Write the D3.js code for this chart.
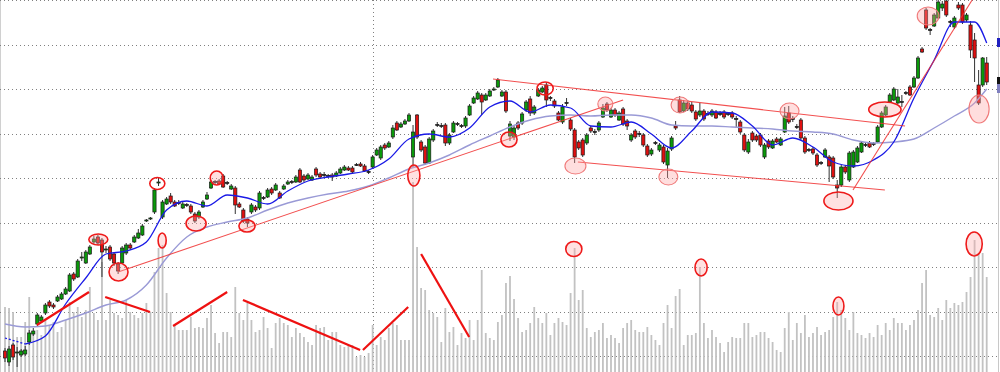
<!DOCTYPE html>
<html>
<head>
<meta charset="utf-8">
<script src="https://cdn.jsdelivr.net/npm/d3@7"></script>
<style>
  body { margin: 0; background: #fff; }
  svg { display: block; }
</style>
</head>
<body>
<script>
// daily bars, index 0..243
const opens = [
  49,38,55,47,45,46,58,66,76,79, 87,98,95,99,101,106,109,126,123,142,
  137,146,158,163,160,150,153,146,136,137, 147,155,158,162,165,179,181,188,217,183,
  196,204,198,197,192,195,194,186,183,193, 201,212,218,219,224,217,211,212,196,190,
  181,188,193,192,202,203,211,210,207,211, 216,218,218,230,224,221,220,231,226,225,
  224,225,224,227,230,232,232,235,236,234, 228,233,245,242,255,253,263,277,273,276,
  279,243,285,258,253,237,260,275,274,275, 257,268,276,274,274,285,297,301,305,300,
  304,310,313,304,308,264,263,277,277,290, 301,287,304,308,315,302,299,287,278,297,
  280,270,258,260,257,272,268,270,283,296, 283,290,280,291,279,260,269,266,265,254,
  246,257,250,253,235,251,274,300,289,297, 295,288,285,289,286,285,288,286,288,286,
  287,281,278,265,248,267,264,265,243,259, 252,261,255,268,287,281,273,280,262,250,
  251,245,237,243,243,242,215,215,233,220, 233,238,248,255,257,256,258,273,285,298,
  300,297,298,307,313,313,322,351,390,370, 374,382,392,399,378,373,395,395,380,375,
  360,315,315,337
];
const closes = [
  42,51,43,48,49,50,67,69,85,83, 95,94,93,103,106,111,125,121,139,143,
  148,153,161,157,148,151,141,137,129,152, 155,152,163,167,174,180,182,210,218,198,
  201,198,194,197.5,196,195.5,188,179,188,198, 205,218,218.5,216,213,217.5,214,195,193,179,
  177,195,190,207,202.5,210,207,215,202,214, 218,218.5,223,218,220,225,223,225,223,225.5,
  224.5,223,227,231,233,230,228,235.5,234,229, 228.5,243,250,253,252,257,272,270,276,279,
  285,268,263,250,237,261,269,275.5,274.5,257, 265,277,276.5,274.5,282,294,302,307,298,305,
  309,311,320,308,289,276,272,272,286,298, 287,293,310,312,300,302.5,294,280,293,297.5,
  271,243,252,245,265,269,268.5,277,292,290, 290,285,287,276,274,265,263,266.5,255,245,
  250,257.5,255,238,249,262,272,288,297,291, 289,281,289,281,286.5,289,282,286.5,283,286.5,
  283,281.5,268,250,258,260,260,255,255,253, 259,258,261,284,278,281.5,273.5,262,248,250.5,
  247,235,237.5,250,234,223,212,233,228,247, 248,252,257,255.5,253,256.5,273,287,293,305,
  311,303,298.5,307.5,305,322,342,348,372,370.5, 385,398,396,385,378.5,382,392,378,385,350,
  342,297,342,318
];
const highs = [
  52,54,57,53,51,54,70,72,87,85, 97,100,97,105,108,113,127,128,141,148,
  150,155,164,165,162,154,155,148,138,154, 157,157,165,171,176,181,183,212,222,200,
  203,207,200,200,198,197,196,188,190,200, 208,220,220,221,226,219,216,214,198,192,
  183,197,195,209,204,212,213,217,209,216, 220,220,225,232,226,227,225,233,228,228,
  226,227,229,233,235,234,234,237,238,236, 230,245,252,255,257,259,275,279,278,281,
  287,275,286,260,255,263,271,278,277,277, 267,279,278,276,284,296,304,309,307,307,
  311,313,322,310,310,279,275,279,288,300, 304,295,312,314,318,304,301,289,296,302,
  282,272,260,262,267,274,271,279,296,298, 292,292,289,293,281,267,271,269,267,256,
  252,259,257,255,252,264,279,304,300,300, 298,290,297,291,289,291,290,289,290,288,
  289,284,280,267,261,269,266,267,257,261, 261,263,263,293,294,284,276,282,264,252,
  253,247,239,252,245,244,220,235,235,249, 250,254,259,257,259,258,275,289,295,307,
  313,311,305,309,315,324,344,353,392,372, 387,400,399,400,380,384,398,397,387,379,
  367,330,343,343
];
const lows = [
  38,34,40,33,43,44,55,64,74,77, 85,92,91,98,100,105,108,119,122,139,
  136,145,156,155,123,147,139,134,126,136, 145,150,157,161,164,178,180,186,214,181,
  195,196,193,195,191,193,186,177,181,192, 200,211,216,215,212,215,210,186,192,177,
  173,186,188,190,200,202,205,209,201,210, 215,216,217,217,218,220,219,223,221,223,
  222,219,223,226,229,229,227,234,233,228, 226,231,244,240,250,252,261,269,272,275,
  278,233,261,248,235,236,258,273,272,254, 255,267,274,272,272,284,296,300,285,299,
  303,309,312,303,287,259,260,270,275,288, 284,285,303,307,293,299,292,279,276,294,
  269,237,250,243,255,267,265,268,282,288, 282,283,279,274,270,258,261,263,253,243,
  244,255,248,236,222,249,270,287,288,289, 287,279,283,279,284,283,281,284,281,284,
  281,272,266,248,246,258,258,253,241,251, 251,257,254,267,276,278,271,260,246,248,
  245,233,235,242,218,221,202,213,226,218, 232,237,247,253,252,254,257,272,284,297,
  299,296,293,305,304,312,321,347,370,365, 373,381,389,383,373,371,390,376,378,342,
  318,295,313,315
];
const volumes = [
  65,64,60,35,35,50,75,39,42,37, 52,47,50,40,45,52,70,60,65,55,
  62,85,59,52,110,52,72,59,57,54, 72,60,57,54,59,69,60,100,124,127,
  79,60,47,42,42,42,55,44,45,44, 54,67,39,29,40,40,35,85,59,52,
  69,52,40,42,55,44,24,49,54,49, 47,35,44,39,35,30,27,47,44,45,
  32,40,40,27,25,27,27,15,17,15, 19,47,27,35,32,44,49,47,32,32,
  32,190,125,84,82,62,59,55,30,64, 40,45,27,39,34,52,32,52,102,39,
  34,32,50,57,89,96,73,54,40,42, 49,65,54,49,59,37,49,54,50,47,
  79,124,72,82,44,35,40,42,49,34, 37,34,29,44,49,52,42,40,40,45,
  37,32,27,49,67,44,76,83,27,37, 37,39,105,49,34,42,35,29,20,30,
  35,34,34,49,49,35,37,40,40,34, 30,22,20,44,60,32,49,39,57,35,
  39,45,37,40,42,55,70,62,54,42, 60,39,37,34,39,35,47,37,49,42,
  54,49,49,42,47,52,62,89,102,57, 55,64,52,72,64,69,67,70,80,95,
  132,119,119,95
];

const maIndex = [0,5,10,15,20,25,30,35,40,45,50,55,60,65,70,75,80,85,90,95,
  100,105,110,115,120,125,130,135,140,145,150,155,160,165,170,175,180,185,190,195,
  200,205,210,215,220,225,230,235,240,243];
const maFast = [62,56,64,96,122,146,149,158,190,199,194,205,202,196,209,219,223,226,230,241,
  261,266,263,272,293,299,288,295,292,274,273,278,266,252,269,288,287,274,255,262,
  253,238,234,240,258,302,340,378,378,357];
const maSlow = [76,73,74,80,87,95,100,115,142,163,173,178,182,190,197,202,206,209,214,222,
  231,237,245,255,264,273,280,284,285,284,285,285,282,275,274,274,273,272,271,269,
  268,266,260,257,258,261,272,284,297,311];

const gridPrices = [400,355.5,311,266.5,222,177.5,133,88.5,44];
const gridIndex = [91];

// hand drawn annotations, in bar index / price (or volume) units
const priceTrendLines = [
  { from: [28, 128], to: [153, 300] },
  { from: [120.8, 321], to: [222.8, 274] },
  { from: [141.8, 238], to: [217.8, 210] },
  { from: [209.9, 210], to: [239.4, 400] }
];
const volumeTrendLines = [
  { from: [7.9, 47], to: [20.8, 80] },
  { from: [24.8, 75], to: [35.9, 60] },
  { from: [41.6, 46], to: [55, 80] },
  { from: [58.9, 72], to: [87.9, 22] },
  { from: [88.6, 22], to: [99.8, 65] },
  { from: [103, 118], to: [114.9, 35] }
];
const priceRings = [
  { i: 23.1, v: 160.5, ri: 2.35, rv: 5.5, kind: "bold" },
  { i: 28.1, v: 128, ri: 2.35, rv: 9, kind: "bold" },
  { i: 37.7, v: 216.5, ri: 1.86, rv: 6, kind: "open" },
  { i: 47.3, v: 176.5, ri: 2.48, rv: 7.5, kind: "bold" },
  { i: 52.4, v: 222, ri: 1.6, rv: 7, kind: "bold" },
  { i: 59.9, v: 174, ri: 2, rv: 6, kind: "bold" },
  { i: 101.2, v: 224.5, ri: 1.5, rv: 10.5, kind: "bold" },
  { i: 124.75, v: 260.5, ri: 2, rv: 7.5, kind: "bold" },
  { i: 133.7, v: 311.5, ri: 2, rv: 6.5, kind: "open" },
  { i: 141.2, v: 234, ri: 2.6, rv: 8, kind: "soft" },
  { i: 148.6, v: 296, ri: 1.86, rv: 7, kind: "soft" },
  { i: 164.2, v: 223, ri: 2.35, rv: 8, kind: "soft" },
  { i: 167.1, v: 295, ri: 2.23, rv: 8, kind: "soft" },
  { i: 194.2, v: 289, ri: 2.35, rv: 8, kind: "soft" },
  { i: 206.3, v: 199, ri: 3.6, rv: 9, kind: "bold" },
  { i: 217.8, v: 290.5, ri: 4, rv: 7.5, kind: "bold" },
  { i: 228.5, v: 384, ri: 2.7, rv: 9, kind: "soft" },
  { i: 241.1, v: 291, ri: 2.5, rv: 14, kind: "soft" }
];
const volumeRings = [
  { i: 38.9, v: 131.5, ri: 1, rv: 7.5, kind: "bold" },
  { i: 140.8, v: 123, ri: 2, rv: 7.5, kind: "bold" },
  { i: 172.3, v: 104.5, ri: 1.5, rv: 8.5, kind: "bold" },
  { i: 206.3, v: 66, ri: 1.36, rv: 9, kind: "bold" },
  { i: 239.9, v: 128, ri: 2, rv: 12, kind: "bold" }
];

const W = 1000, H = 372;
const upColor = "#0a9a0a", downColor = "#e01010";

const x = d3.scaleLinear().domain([0, 243]).range([5, 986.7]);
const yP = d3.scaleLinear().domain([28, 400]).range([H, 0]);
const yV = d3.scaleLinear().domain([0, 372]).range([H, 0]);

const svg = d3.select("body").append("svg")
  .attr("width", W).attr("height", H);

// frame edges
svg.append("line").attr("x1", 0.5).attr("x2", 0.5).attr("y1", 0).attr("y2", H)
  .attr("stroke", "#d0d0d0");
svg.append("line").attr("x1", 998.5).attr("x2", 998.5).attr("y1", 0).attr("y2", H)
  .attr("stroke", "#c8c8c8");

// dotted grid
svg.append("g").selectAll("line").data(gridPrices).join("line")
  .attr("x1", 0).attr("x2", 997)
  .attr("y1", d => Math.round(yP(d)) + 0.5).attr("y2", d => Math.round(yP(d)) + 0.5)
  .attr("stroke", "#808080").attr("stroke-dasharray", "1,3")
  .attr("shape-rendering", "crispEdges");
svg.append("g").selectAll("line").data(gridIndex).join("line")
  .attr("x1", d => Math.round(x(d)) + 0.5).attr("x2", d => Math.round(x(d)) + 0.5)
  .attr("y1", 0).attr("y2", H)
  .attr("stroke", "#808080").attr("stroke-dasharray", "1,3")
  .attr("shape-rendering", "crispEdges");

const idx = d3.range(opens.length);

// volume
svg.append("g").selectAll("rect").data(idx).join("rect")
  .attr("x", i => x(i) - 0.9)
  .attr("width", 1.8)
  .attr("y", i => yV(volumes[i]))
  .attr("height", i => H - yV(volumes[i]))
  .attr("fill", "#c2c2c2");

// candles
const cg = svg.append("g");
cg.selectAll("line").data(idx).join("line")
  .attr("x1", i => x(i)).attr("x2", i => x(i))
  .attr("y1", i => yP(highs[i])).attr("y2", i => yP(lows[i]))
  .attr("stroke", "#333").attr("stroke-width", 1);
cg.selectAll("rect").data(idx).join("rect")
  .attr("x", i => x(i) - 1.6)
  .attr("width", 3.2)
  .attr("y", i => yP(Math.max(opens[i], closes[i])))
  .attr("height", i => Math.max(1, Math.abs(yP(opens[i]) - yP(closes[i]))))
  .attr("fill", i => Math.abs(closes[i] - opens[i]) < 1 ? "#222"
    : (closes[i] > opens[i] ? upColor : downColor))
  .attr("stroke", "#1a1a1a").attr("stroke-width", 0.7);

// moving averages
const curve = d3.line().curve(d3.curveMonotoneX);
const fastPts = maIndex.map((d, k) => [x(d), yP(maFast[k])]);
const slowPts = maIndex.map((d, k) => [x(d), yP(maSlow[k])]);

svg.append("path").attr("d", curve(slowPts))
  .attr("fill", "none").attr("stroke", "#9a9ad6").attr("stroke-width", 1.4);
svg.append("path").attr("d", curve(fastPts.slice(0, 2)))
  .attr("fill", "none").attr("stroke", "#1a1ae6").attr("stroke-width", 1.3)
  .attr("stroke-dasharray", "2,2");
svg.append("path").attr("d", curve(fastPts.slice(1)))
  .attr("fill", "none").attr("stroke", "#1a1ae6").attr("stroke-width", 1.3);

// annotations
const ann = svg.append("g");
ann.selectAll(".pl").data(priceTrendLines).join("line").attr("class", "pl")
  .attr("x1", d => x(d.from[0])).attr("y1", d => yP(d.from[1]))
  .attr("x2", d => x(d.to[0])).attr("y2", d => yP(d.to[1]))
  .attr("stroke", "#f03030").attr("stroke-opacity", 0.85).attr("stroke-width", 1.1);
ann.selectAll(".vl").data(volumeTrendLines).join("line").attr("class", "vl")
  .attr("x1", d => x(d.from[0])).attr("y1", d => yV(d.from[1]))
  .attr("x2", d => x(d.to[0])).attr("y2", d => yV(d.to[1]))
  .attr("stroke", "#ee1111").attr("stroke-width", 2.2);

const ringStroke = { bold: "#ee1a1a", open: "#ee1a1a", soft: "#f07a7a" };
const ringFill = { bold: "rgba(255,170,170,0.35)", open: "rgba(255,255,255,0)", soft: "rgba(255,160,160,0.35)" };
const ringWidth = { bold: 1.6, open: 1.6, soft: 1.1 };

function rings(data, ys) {
  ann.append("g").selectAll("ellipse").data(data).join("ellipse")
    .attr("cx", d => x(d.i))
    .attr("cy", d => ys(d.v))
    .attr("rx", d => x(d.ri) - x(0))
    .attr("ry", d => ys(0) - ys(d.rv))
    .attr("fill", d => ringFill[d.kind])
    .attr("stroke", d => ringStroke[d.kind])
    .attr("stroke-width", d => ringWidth[d.kind]);
}
rings(priceRings, yP);
rings(volumeRings, yV);

// last value tags cut off at the right edge
const last = opens.length - 1;
const tags = [
  { v: maFast[maFast.length - 1], c: "#2020c0" },
  { v: closes[last], c: "#111" },
  { v: maSlow[maSlow.length - 1], c: "#8080c0" }
];
svg.append("g").selectAll("rect").data(tags).join("rect")
  .attr("x", 997).attr("width", 3)
  .attr("y", d => yP(d.v) - 5).attr("height", 9)
  .attr("fill", d => d.c);
</script>
</body>
</html>
